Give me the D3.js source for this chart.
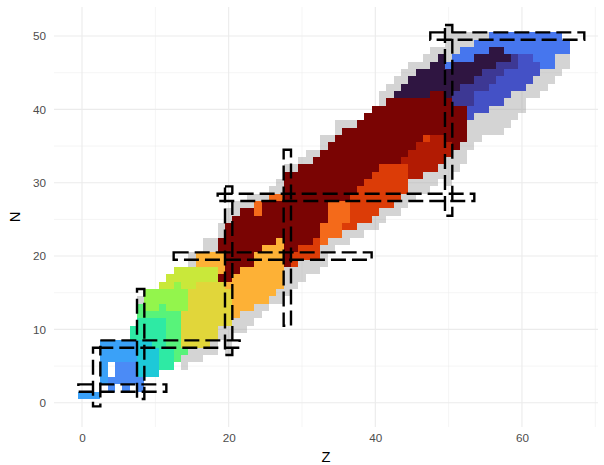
<!DOCTYPE html>
<html>
<head>
<meta charset="utf-8">
<script src="https://cdn.jsdelivr.net/npm/d3@7"></script>
<style>
  body { margin: 0; background: #fff; }
  svg { display: block; font-family: "Liberation Sans", Arial, sans-serif; }
</style>
</head>
<body>
<div id="chart"></div>
<script>
////////////////////////////////////////////////////////////////////////////////
// DATA
////////////////////////////////////////////////////////////////////////////////
// tile runs: [Z, first N, last N, level code]  ('g' = grey, no value)
const lowRuns = [
  [0, 1, 1, 'L'], [1, 1, 1, 'L'], [2, 1, 1, 'L'],
  [3, 3, 8, 'L'],
  [4, 2, 3, 'K'], [4, 6, 8, 'L'],
  [5, 3, 5, 'K'], [5, 6, 8, 'L'],
  [6, 2, 5, 'K'], [6, 6, 8, 'L'],
  [7, 3, 5, 'K'], [7, 6, 8, 'L'], [7, 9, 10, 'T'],
  [8, 2, 3, 'K'], [8, 4, 8, 'C'], [8, 9, 11, 'T'], [8, 12, 13, 'G'], [8, 14, 14, 'g'],
  [9, 4, 8, 'C'], [9, 9, 11, 'T'], [9, 12, 12, 'G'], [9, 13, 15, 'H'],
  [10, 4, 7, 'C'], [10, 8, 11, 'T'], [10, 12, 12, 'G'], [10, 13, 15, 'H'],
  [11, 5, 11, 'T'], [11, 12, 13, 'G'], [11, 14, 15, 'H'], [11, 16, 16, 'Y'],
  [12, 5, 7, 'T'], [12, 8, 12, 'G'], [12, 13, 15, 'H'], [12, 16, 17, 'Y'],
  [13, 6, 12, 'G'], [13, 13, 16, 'H'], [13, 17, 18, 'Y'],
  [14, 5, 6, 'g'], [14, 7, 7, 'G'], [14, 8, 12, 'E'], [14, 13, 15, 'H'], [14, 16, 18, 'Y'],
  [15, 6, 7, 'g'], [15, 8, 15, 'E'], [15, 16, 18, 'Y'], [15, 19, 20, 'g'],
  [16, 6, 7, 'g'], [16, 8, 16, 'E'], [16, 17, 18, 'Y'], [16, 19, 20, 'O'],
  [17, 7, 7, 'g'], [17, 8, 16, 'E'], [17, 17, 18, 'Y'], [17, 19, 20, 'O'], [17, 21, 22, 'g'],
  [18, 7, 8, 'g'], [18, 9, 16, 'E'], [18, 17, 18, 'Y'], [18, 19, 20, 'O'], [18, 21, 22, 'g'],
  [19, 9, 10, 'g'], [19, 11, 16, 'E'], [19, 17, 17, 'M'], [19, 18, 20, 'O'], [19, 21, 22, 'M'], [19, 23, 24, 'g']
];

const midRuns = [
  [20, 7, 10, 'g'], [20, 11, 15, 'E'], [20, 16, 16, 'O'], [20, 17, 24, 'M'], [20, 25, 26, 'g'],
  [21, 10, 11, 'g'], [21, 12, 17, 'O'], [21, 18, 25, 'M'], [21, 26, 27, 'g'],
  [22, 10, 12, 'g'], [22, 13, 18, 'O'], [22, 19, 26, 'M'], [22, 27, 27, 'g'],
  [23, 11, 12, 'g'], [23, 13, 18, 'O'], [23, 19, 26, 'M'], [23, 27, 28, 'g'],
  [24, 12, 13, 'g'], [24, 14, 20, 'O'], [24, 21, 25, 'M'], [24, 26, 27, 'R'], [24, 28, 28, 'g'],
  [25, 13, 13, 'g'], [25, 14, 21, 'O'], [25, 22, 27, 'M'], [25, 28, 28, 'g'],
  [26, 14, 14, 'g'], [26, 15, 21, 'O'], [26, 22, 27, 'M'], [26, 28, 28, 'R'], [26, 29, 29, 'g'],
  [27, 14, 15, 'g'], [27, 16, 22, 'O'], [27, 23, 27, 'M'], [27, 28, 28, 'R'], [27, 29, 30, 'g'],
  [28, 15, 18, 'g'], [28, 19, 31, 'M'], [28, 32, 32, 'g'],
  [29, 16, 18, 'g'], [29, 19, 20, 'S'], [29, 21, 31, 'M'], [29, 32, 32, 'g'],
  [30, 17, 19, 'g'], [30, 20, 21, 'S'], [30, 22, 32, 'M'], [30, 33, 33, 'g'],
  [31, 18, 19, 'g'], [31, 20, 21, 'S'], [31, 22, 32, 'M'], [31, 33, 34, 'g'],
  [32, 18, 19, 'g'], [32, 20, 22, 'S'], [32, 23, 33, 'M'], [32, 34, 34, 'g'],
  [33, 19, 21, 'g'], [33, 22, 24, 'R'], [33, 25, 34, 'M'], [33, 35, 36, 'g'],
  [34, 21, 22, 'g'], [34, 23, 27, 'R'], [34, 28, 35, 'M'], [34, 36, 36, 'g'],
  [35, 22, 22, 'g'], [35, 23, 27, 'R'], [35, 28, 36, 'M'], [35, 37, 38, 'g'],
  [36, 22, 23, 'g'], [36, 24, 24, 'S'], [36, 25, 27, 'R'], [36, 28, 37, 'M'], [36, 38, 38, 'g'],
  [37, 23, 23, 'g'], [37, 24, 28, 'S'], [37, 29, 37, 'M'], [37, 38, 38, 'g'],
  [38, 23, 24, 'g'], [38, 25, 29, 'S'], [38, 30, 38, 'M'],
  [39, 24, 24, 'g'], [39, 25, 30, 'S'], [39, 31, 39, 'M'],
  [40, 24, 25, 'g'], [40, 26, 31, 'S'], [40, 32, 40, 'M'],
  [41, 25, 26, 'g'], [41, 27, 32, 'S'], [41, 33, 40, 'M'], [41, 41, 42, 'g'],
  [42, 26, 26, 'g'], [42, 27, 32, 'S'], [42, 33, 41, 'M'], [42, 42, 43, 'g']
];

const highRuns = [
  [43, 26, 27, 'g'], [43, 28, 32, 'S'], [43, 33, 41, 'M'], [43, 42, 42, 'P'], [43, 43, 44, 'g'],
  [44, 27, 28, 'g'], [44, 29, 32, 'S'], [44, 33, 33, 'D'], [44, 34, 41, 'M'], [44, 42, 43, 'P'], [44, 44, 45, 'g'],
  [45, 28, 30, 'g'], [45, 31, 34, 'D'], [45, 35, 41, 'M'], [45, 42, 44, 'P'], [45, 45, 46, 'g'],
  [46, 29, 30, 'g'], [46, 31, 35, 'D'], [46, 36, 41, 'M'], [46, 42, 45, 'P'], [46, 46, 46, 'g'],
  [47, 29, 31, 'g'], [47, 32, 35, 'D'], [47, 36, 36, 'S'], [47, 37, 41, 'M'], [47, 42, 45, 'P'], [47, 46, 47, 'g'],
  [48, 30, 31, 'g'], [48, 32, 36, 'D'], [48, 37, 42, 'M'], [48, 43, 46, 'P'], [48, 47, 48, 'g'],
  [49, 31, 32, 'g'], [49, 33, 36, 'D'], [49, 37, 42, 'M'], [49, 43, 47, 'P'], [49, 48, 48, 'g'],
  [50, 30, 33, 'g'], [50, 34, 35, 'D'], [50, 36, 41, 'M'], [50, 42, 45, 'P'], [50, 46, 46, 'B'], [50, 47, 51, 'g'],
  [51, 32, 34, 'g'], [51, 35, 40, 'M'], [51, 41, 42, 'I'], [51, 43, 46, 'P'], [51, 47, 47, 'B'], [51, 48, 50, 'g'],
  [52, 33, 35, 'g'], [52, 36, 40, 'M'], [52, 41, 43, 'I'], [52, 44, 46, 'P'], [52, 47, 48, 'B'], [52, 49, 50, 'g'],
  [53, 35, 38, 'g'], [53, 39, 40, 'V'], [53, 41, 43, 'I'], [53, 44, 46, 'P'], [53, 47, 48, 'B'], [53, 49, 50, 'g'],
  [54, 36, 39, 'g'], [54, 40, 42, 'V'], [54, 43, 44, 'I'], [54, 45, 47, 'P'], [54, 48, 49, 'B'], [54, 50, 50, 'g'],
  [55, 37, 39, 'g'], [55, 40, 42, 'V'], [55, 43, 45, 'I'], [55, 46, 47, 'P'], [55, 48, 49, 'B'], [55, 50, 50, 'g'],
  [56, 37, 40, 'g'], [56, 41, 43, 'V'], [56, 44, 45, 'I'], [56, 46, 48, 'P'], [56, 49, 50, 'B'],
  [57, 37, 40, 'g'], [57, 41, 44, 'V'], [57, 45, 46, 'I'], [57, 47, 48, 'P'], [57, 49, 50, 'B'],
  [58, 38, 41, 'g'], [58, 42, 45, 'V'], [58, 46, 46, 'I'], [58, 47, 47, 'P'], [58, 48, 50, 'B'],
  [59, 39, 42, 'g'], [59, 43, 45, 'V'], [59, 46, 47, 'I'], [59, 48, 50, 'B'],
  [60, 40, 42, 'g'], [60, 43, 47, 'V'], [60, 48, 50, 'B'],
  [61, 42, 43, 'g'], [61, 44, 47, 'V'], [61, 48, 50, 'B'],
  [62, 42, 44, 'g'], [62, 45, 46, 'V'], [62, 47, 50, 'B'],
  [63, 43, 45, 'g'], [63, 46, 50, 'B'],
  [64, 44, 45, 'g'], [64, 46, 50, 'B'],
  [65, 45, 47, 'g'], [65, 48, 50, 'B'],
  [66, 46, 47, 'g'], [66, 48, 49, 'B']
];

// fill level behind each code
const levelCodes  = ['P', 'I', 'V', 'B', 'K', 'L', 'C', 'T', 'G', 'H', 'Y', 'E', 'O', 'R', 'S', 'D', 'M'];
const levelValues = [0.01, 0.05, 0.085, 0.13, 0.16, 0.2, 0.28, 0.36, 0.42, 0.48, 0.55, 0.6, 0.68, 0.78, 0.85, 0.92, 1];

// magic numbers and the spans of their dashed boxes
const magicNumbers = [2, 8, 20, 28, 50];
const magicZSpan = [[0, 7], [1, 15], [7, 29], [11, 34], [26, 51]];   // N range for column Z = magic
const magicNSpan = [[0, 11], [3, 21], [13, 39], [19, 53], [48, 68]]; // Z range for row N = magic

const xTicks = [0, 20, 40, 60];
const xMinor = [10, 30, 50, 70];
const yTicks = [0, 10, 20, 30, 40, 50];
const yMinor = [5, 15, 25, 35, 45];

////////////////////////////////////////////////////////////////////////////////
// CHART
////////////////////////////////////////////////////////////////////////////////
const width = 604;
const height = 465;
const panel = {left: 54, right: 598, top: 7, bottom: 427};

// turbo-like colour ramp
const rampStops = [0.01, 0.05, 0.085, 0.13, 0.16, 0.2, 0.28, 0.36, 0.42, 0.48, 0.55, 0.6, 0.68, 0.78, 0.85, 0.92, 1];
const rampColors = ['#2f1541', '#3d3894', '#4451c6', '#4676ee', '#4b8bf6', '#3aa1f8', '#1dc9d8', '#2eeaa4',
  '#58f37a', '#93f54c', '#c9e83a', '#e1d63a', '#fdb136', '#f46a1a', '#dc3c07', '#b21b03', '#7a0403'];

const x = d3.scaleLinear().domain([-3.82, 70.37]).range([panel.left, panel.right]);
const y = d3.scaleLinear().domain([-3.31, 53.96]).range([panel.bottom, panel.top]);
const fill = d3.scaleLinear().domain(rampStops).range(rampColors);
const level = d3.scaleOrdinal().domain(levelCodes).range(levelValues);

const tiles = [...lowRuns, ...midRuns, ...highRuns]
  .flatMap(([z, lo, hi, code]) => d3.range(lo, hi + 1).map(n => ({z, n, code})));

const svg = d3.select('#chart').append('svg')
  .attr('width', width)
  .attr('height', height);

// grid
const grid = svg.append('g');
grid.selectAll('.minor-x').data(xMinor).join('line')
  .attr('x1', d => x(d)).attr('x2', d => x(d))
  .attr('y1', panel.top).attr('y2', panel.bottom)
  .attr('stroke', '#ebebeb').attr('stroke-width', 0.55);
grid.selectAll('.minor-y').data(yMinor).join('line')
  .attr('y1', d => y(d)).attr('y2', d => y(d))
  .attr('x1', panel.left).attr('x2', panel.right)
  .attr('stroke', '#ebebeb').attr('stroke-width', 0.55);
grid.selectAll('.major-x').data(xTicks).join('line')
  .attr('x1', d => x(d)).attr('x2', d => x(d))
  .attr('y1', panel.top).attr('y2', panel.bottom)
  .attr('stroke', '#ebebeb').attr('stroke-width', 1.1);
grid.selectAll('.major-y').data(yTicks).join('line')
  .attr('y1', d => y(d)).attr('y2', d => y(d))
  .attr('x1', panel.left).attr('x2', panel.right)
  .attr('stroke', '#ebebeb').attr('stroke-width', 1.1);

// tiles
svg.append('g')
  .attr('shape-rendering', 'crispEdges')
  .selectAll('rect')
  .data(tiles)
  .join('rect')
    .attr('x', d => x(d.z - 0.5))
    .attr('y', d => y(d.n + 0.5))
    .attr('width', d => x(d.z + 0.5) - x(d.z - 0.5))
    .attr('height', d => y(d.n - 0.5) - y(d.n + 0.5))
    .attr('fill', d => d.code === 'g' ? '#a0a0a0' : fill(level(d.code)))
    .attr('fill-opacity', d => d.code === 'g' ? 0.45 : 1);

// dashed magic-number boxes
const boxes = [
  ...magicNumbers.map((m, i) => ({z0: m, z1: m, n0: magicZSpan[i][0], n1: magicZSpan[i][1]})),
  ...magicNumbers.map((m, i) => ({z0: magicNSpan[i][0], z1: magicNSpan[i][1], n0: m, n1: m}))
];
svg.append('g').selectAll('rect')
  .data(boxes)
  .join('rect')
    .attr('x', d => x(d.z0 - 0.5))
    .attr('y', d => y(d.n1 + 0.5))
    .attr('width', d => x(d.z1 + 0.5) - x(d.z0 - 0.5))
    .attr('height', d => y(d.n0 - 0.5) - y(d.n1 + 0.5))
    .attr('fill', 'none')
    .attr('stroke', '#000')
    .attr('stroke-width', 2.4)
    .attr('stroke-dasharray', '15 6');

// axes
const xAxis = svg.append('g')
  .attr('transform', `translate(0,${panel.bottom})`)
  .call(d3.axisBottom(x).tickValues(xTicks).tickSize(0).tickPadding(7));
const yAxis = svg.append('g')
  .attr('transform', `translate(${panel.left},0)`)
  .call(d3.axisLeft(y).tickValues(yTicks).tickSize(0).tickPadding(8));
[xAxis, yAxis].forEach(a => {
  a.select('.domain').remove();
  a.selectAll('text')
    .attr('font-family', '"Liberation Sans", Arial, sans-serif')
    .attr('font-size', 11.7)
    .attr('fill', '#4d4d4d');
});

svg.append('text')
  .attr('x', (panel.left + panel.right) / 2)
  .attr('y', 462)
  .attr('text-anchor', 'middle')
  .attr('font-size', 14.7)
  .attr('fill', '#000')
  .text('Z');

svg.append('text')
  .attr('transform', `translate(19.5,${(panel.top + panel.bottom) / 2}) rotate(-90)`)
  .attr('text-anchor', 'middle')
  .attr('font-size', 14.7)
  .attr('fill', '#000')
  .text('N');
</script>
</body>
</html>
